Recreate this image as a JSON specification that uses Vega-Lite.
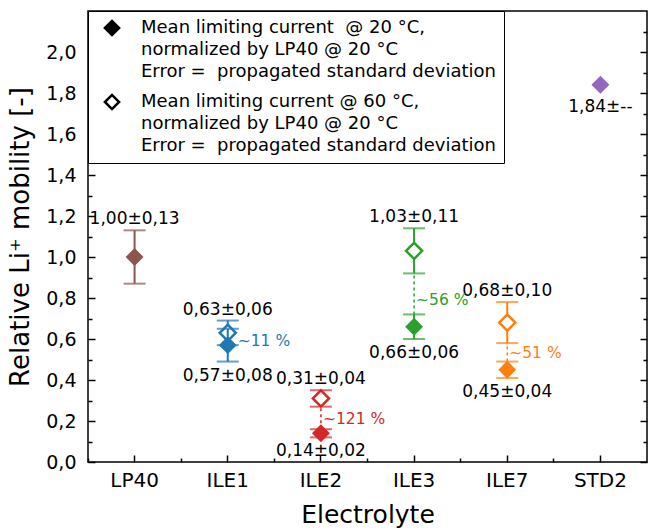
{
  "$schema": "https://vega.github.io/schema/vega-lite/v6.json",
  "width": 559,
  "height": 451,
  "autosize": "none",
  "padding": {"left": 88, "top": 11, "right": 2, "bottom": 69},
  "background": "white",
  "config": {
    "font": "DejaVu Sans",
    "view": {"stroke": "#000000", "strokeWidth": 1.5},
    "axis": {"grid": false, "domain": false, "tickColor": "#000000", "tickWidth": 1.5, "labelColor": "#000000", "titleColor": "#000000", "labelFont": "DejaVu Sans", "titleFont": "DejaVu Sans", "titleFontWeight": "normal"},
    "text": {"font": "DejaVu Sans"}
  },
  "datasets": {
    "pts": [
      {"e": "LP40", "temp": "20", "mean": 1.00, "lo": 0.87, "hi": 1.13, "label": "1,00±0,13", "pos": "above"},
      {"e": "ILE1", "temp": "20", "mean": 0.57, "lo": 0.49, "hi": 0.65, "label": "0,57±0,08", "pos": "below"},
      {"e": "ILE1", "temp": "60", "mean": 0.63, "lo": 0.57, "hi": 0.69, "label": "0,63±0,06", "pos": "above"},
      {"e": "ILE2", "temp": "20", "mean": 0.14, "lo": 0.12, "hi": 0.16, "label": "0,14±0,02", "pos": "below"},
      {"e": "ILE2", "temp": "60", "mean": 0.31, "lo": 0.27, "hi": 0.35, "label": "0,31±0,04", "pos": "above"},
      {"e": "ILE3", "temp": "20", "mean": 0.66, "lo": 0.60, "hi": 0.72, "label": "0,66±0,06", "pos": "below"},
      {"e": "ILE3", "temp": "60", "mean": 1.03, "lo": 0.92, "hi": 1.14, "label": "1,03±0,11", "pos": "above"},
      {"e": "ILE7", "temp": "20", "mean": 0.45, "lo": 0.41, "hi": 0.49, "label": "0,45±0,04", "pos": "below"},
      {"e": "ILE7", "temp": "60", "mean": 0.68, "lo": 0.58, "hi": 0.78, "label": "0,68±0,10", "pos": "above"},
      {"e": "STD2", "temp": "20", "mean": 1.84, "lo": null, "hi": null, "label": "1,84±--", "pos": "point"}
    ],
    "conn": [
      {"e": "ILE2", "y1": 0.16, "y2": 0.27},
      {"e": "ILE3", "y1": 0.72, "y2": 0.92},
      {"e": "ILE7", "y1": 0.49, "y2": 0.58}
    ],
    "pct": [
      {"e": "ILE1", "y": 0.59, "label": "~11 %"},
      {"e": "ILE2", "y": 0.21, "label": "~121 %"},
      {"e": "ILE3", "y": 0.79, "label": "~56 %"},
      {"e": "ILE7", "y": 0.53, "label": "~51 %"}
    ],
    "legend": [
      {"temp": "20"},
      {"temp": "60"}
    ]
  },
  "encoding": {
    "x": {"field": "e", "type": "nominal", "scale": {"type": "band", "domain": ["LP40", "ILE1", "ILE2", "ILE3", "ILE7", "STD2"], "paddingInner": 0, "paddingOuter": 0}, "axis": null},
    "color": {"field": "e", "type": "nominal", "scale": {"domain": ["LP40", "ILE1", "ILE2", "ILE3", "ILE7", "STD2"], "range": ["#8c564b", "#1f77b4", "#d62728", "#2ca02c", "#ff7f0e", "#9467bd"]}, "legend": null}
  },
  "layer": [
    {
      "data": {"name": "conn"},
      "mark": {"type": "rule", "strokeDash": [3, 3], "strokeWidth": 1.5},
      "encoding": {
        "x": {"field": "e", "type": "nominal", "scale": {"type": "band", "domain": ["LP40", "ILE1", "ILE2", "ILE3", "ILE7", "STD2"], "paddingInner": 0, "paddingOuter": 0},
          "axis": {"orient": "bottom", "title": "Electrolyte", "titleFontSize": 25, "titlePadding": 12, "labelFontSize": 20, "labelPadding": 15, "tickSize": -7, "labelAngle": 0}},
        "y": {"field": "y1", "type": "quantitative", "scale": {"domain": [0, 2.2], "nice": false, "zero": true},
          "axis": {"orient": "left", "title": "Relative Li⁺ mobility [-]", "titleFontSize": 26, "titlePadding": 12, "labelFontSize": 19, "labelPadding": 19,
            "values": [0, 0.1, 0.2, 0.3, 0.4, 0.5, 0.6, 0.7, 0.8, 0.9, 1.0, 1.1, 1.2, 1.3, 1.4, 1.5, 1.6, 1.7, 1.8, 1.9, 2.0, 2.1],
            "tickSize": {"condition": {"test": "round(datum.value*10) % 2 == 0", "value": -7}, "value": -4},
            "labelExpr": "round(datum.value*10) % 2 == 0 ? replace(format(datum.value, '.1f'), '.', ',') : ''"}},
        "y2": {"field": "y2"}
      }
    },
    {
      "data": {"name": "pts"},
      "transform": [{"filter": "datum.temp == '60'"}],
      "mark": {"type": "rule", "strokeWidth": 2},
      "encoding": {
        "x": {"field": "e", "type": "nominal", "scale": {"type": "band", "domain": ["LP40", "ILE1", "ILE2", "ILE3", "ILE7", "STD2"], "paddingInner": 0, "paddingOuter": 0},
          "axis": {"orient": "bottom", "title": null, "labels": false, "bandPosition": 0, "tickSize": -4}},
        "y": {"field": "lo", "type": "quantitative",
          "axis": {"orient": "right", "title": null, "labels": false,
            "values": [0, 0.1, 0.2, 0.3, 0.4, 0.5, 0.6, 0.7, 0.8, 0.9, 1.0, 1.1, 1.2, 1.3, 1.4, 1.5, 1.6, 1.7, 1.8, 1.9, 2.0, 2.1],
            "tickSize": {"condition": {"test": "round(datum.value*10) % 2 == 0", "value": -7}, "value": -4}}},
        "y2": {"field": "hi"}
      }
    },
    {
      "data": {"name": "pts"},
      "transform": [{"filter": "datum.temp == '60'"}, {"fold": ["lo", "hi"], "as": ["end", "v"]}],
      "mark": {"type": "tick", "size": 22, "thickness": 2},
      "encoding": {"y": {"field": "v", "type": "quantitative", "axis": null}}
    },
    {
      "data": {"name": "pts"},
      "transform": [{"filter": "datum.temp == '60'"}],
      "mark": {"type": "point", "shape": "diamond", "size": 260, "strokeWidth": 2.5, "filled": false, "fill": "white", "opacity": 1},
      "encoding": {
        "y": {"field": "mean", "type": "quantitative", "axis": null}
      }
    },
    {
      "data": {"name": "pts"},
      "transform": [{"filter": "datum.temp == '20' && datum.lo != null"}],
      "mark": {"type": "rule", "strokeWidth": 2},
      "encoding": {"y": {"field": "lo", "type": "quantitative", "axis": null}, "y2": {"field": "hi"}}
    },
    {
      "data": {"name": "pts"},
      "transform": [{"filter": "datum.temp == '20' && datum.lo != null"}, {"fold": ["lo", "hi"], "as": ["end", "v"]}],
      "mark": {"type": "tick", "size": 22, "thickness": 2},
      "encoding": {"y": {"field": "v", "type": "quantitative", "axis": null}}
    },
    {
      "data": {"name": "pts"},
      "transform": [{"filter": "datum.temp == '20'"}],
      "mark": {"type": "point", "shape": "diamond", "size": 320, "filled": true, "opacity": 1},
      "encoding": {
        "y": {"field": "mean", "type": "quantitative", "axis": null}
      }
    },
    {
      "data": {"name": "pts"},
      "transform": [{"filter": "datum.pos == 'above'"}],
      "mark": {"type": "text", "fontSize": 17, "baseline": "middle", "dy": -11},
      "encoding": {"y": {"field": "hi", "type": "quantitative", "axis": null}, "text": {"field": "label"}, "color": {"value": "black"}}
    },
    {
      "data": {"name": "pts"},
      "transform": [{"filter": "datum.pos == 'below'"}],
      "mark": {"type": "text", "fontSize": 17, "baseline": "middle", "dy": 14},
      "encoding": {"y": {"field": "lo", "type": "quantitative", "axis": null}, "text": {"field": "label"}, "color": {"value": "black"}}
    },
    {
      "data": {"name": "pts"},
      "transform": [{"filter": "datum.pos == 'point'"}],
      "mark": {"type": "text", "fontSize": 17, "baseline": "middle", "dy": 22},
      "encoding": {"y": {"field": "mean", "type": "quantitative", "axis": null}, "text": {"field": "label"}, "color": {"value": "black"}}
    },
    {
      "data": {"name": "pct"},
      "transform": [{"filter": "datum.e == 'ILE1'"}],
      "mark": {"type": "text", "fontSize": 15.5, "baseline": "middle", "align": "left", "dx": 10},
      "encoding": {"y": {"field": "y", "type": "quantitative", "axis": null}, "text": {"field": "label"}}
    },
    {
      "data": {"name": "pct"},
      "transform": [{"filter": "datum.e != 'ILE1'"}],
      "mark": {"type": "text", "fontSize": 15.5, "baseline": "middle", "align": "left", "dx": 2},
      "encoding": {"y": {"field": "y", "type": "quantitative", "axis": null}, "text": {"field": "label"}}
    },
    {
      "data": {"name": "legend"},
      "mark": {"type": "point", "shape": "diamond", "filled": true, "stroke": "black", "strokeWidth": 2.5, "size": 0},
      "encoding": {
        "y": {"datum": 1, "type": "quantitative", "axis": null},
        "color": {"value": "black"},
        "fill": {"field": "temp", "type": "nominal", "scale": {"domain": ["20", "60"], "range": ["black", "white"]},
          "legend": {"title": null, "orient": "top-left", "offset": 0, "padding": 8, "fillColor": "white", "strokeColor": "black",
            "labelFontSize": 18, "labelLimit": 0, "labelColor": "black", "labelFont": "DejaVu Sans", "symbolSize": 200, "symbolType": "diamond", "symbolOffset": 7, "labelOffset": 20, "rowPadding": 8,
            "symbolStrokeColor": "black", "symbolStrokeWidth": 2.5, "symbolOpacity": 1,
            "labelExpr": "datum.value === '20' ? ['Mean limiting current\u00a0 @ 20 °C,', 'normalized by LP40 @ 20 °C', 'Error =\u00a0 propagated standard deviation'] : ['Mean limiting current @ 60 °C,', 'normalized by LP40 @ 20 °C', 'Error =\u00a0 propagated standard deviation']",
            "encode": {"labels": {"update": {"lineHeight": {"value": 22}}}}}}
      }
    }
  ],
  "resolve": {"axis": {"x": "independent", "y": "independent"}}
}
